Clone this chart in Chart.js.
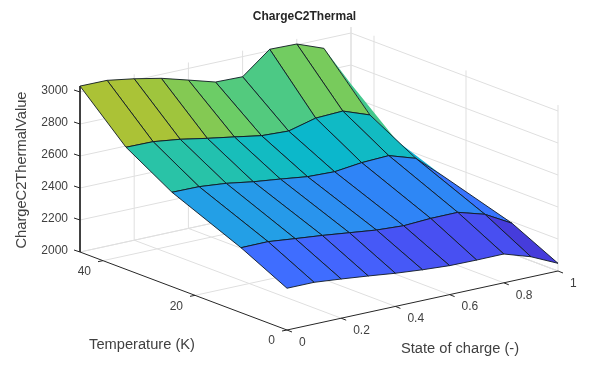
<!DOCTYPE html>
<html>
<head>
<meta charset="utf-8">
<title>ChargeC2Thermal</title>
<script src="https://cdn.jsdelivr.net/npm/chart.js@4/dist/chart.umd.min.js"></script>
<style>
  html, body { margin: 0; padding: 0; background: #fff; }
  #wrap { width: 616px; height: 371px; }
</style>
</head>
<body>
<div id="wrap"><canvas id="myChart"></canvas></div>
<script>
// data
var socValues = [0, 0.1, 0.2, 0.3, 0.4, 0.5, 0.6, 0.7, 0.8, 0.9, 1];
var tempValues = [0, 10, 25, 35, 45];
var values_t0 = [2261, 2261, 2245, 2227, 2207, 2192, 2181, 2179, 2180, 2126, 2048];
var values_t10 = [2406, 2407, 2389, 2372, 2352, 2332, 2322, 2331, 2332, 2283, 2190];
var values_t25 = [2590, 2588, 2572, 2545, 2525, 2503, 2497, 2517, 2524, 2470, 2323];
var values_t35 = [2763, 2761, 2739, 2708, 2680, 2651, 2643, 2687, 2694, 2633, 2433];
var values_t45 = [3037, 3036, 3009, 2975, 2927, 2878, 2874, 3009, 3005, 2941, 2681];
var surface = [values_t0, values_t10, values_t25, values_t35, values_t45];

var socTicks = [0, 0.2, 0.4, 0.6, 0.8, 1];
var tempTicks = [0, 20, 40];
var zTicks = [2000, 2200, 2400, 2600, 2800, 3000];

var titleText = 'ChargeC2Thermal';
var socLabel = 'State of charge (-)';
var tempLabel = 'Temperature (K)';
var zLabel = 'ChargeC2ThermalValue';

var tempMax = 45, zMin = 2000, zMax = 3037;

// parula, position then r g b
var parula = [
    [0, 62, 38, 168], [0.064, 69, 55, 213], [0.127, 72, 77, 240], [0.19, 69, 99, 253],
    [0.222, 62, 111, 255], [0.254, 50, 124, 252], [0.317, 43, 145, 239], [0.381, 32, 165, 226],
    [0.444, 8, 181, 208], [0.508, 25, 191, 184], [0.571, 50, 198, 158], [0.635, 105, 205, 105],
    [0.70, 160, 197, 60], [0.76, 190, 190, 45], [0.875, 250, 190, 60], [1, 249, 251, 14]
];

function parulaColor(p) {
    for (var i = 1; i < parula.length; i++) {
        if (p <= parula[i][0]) {
            var a = parula[i - 1], b = parula[i];
            var f = (p - a[0]) / (b[0] - a[0]);
            return 'rgb(' + [1, 2, 3].map(function(k) {
                return Math.round(a[k] + (b[k] - a[k]) * f);
            }).join(',') + ')';
        }
    }
    return 'rgb(249,251,14)';
}

// 3D view -> plot coordinates
function project(s, t, z) {
    return {
        x: 287 + 271 * s - 207 * t / tempMax,
        y: 330 - 59 * s - 78 * t / tempMax - 0.16 * (z - zMin)
    };
}

function lineSet(points, color, width) {
    return {
        type: 'scatter', data: points, showLine: true, pointRadius: 0,
        borderColor: color, borderWidth: width, fill: false, clip: false, tension: 0
    };
}

var gridColor = '#dfdfdf';
var axisColor = '#262626';
var datasets = [];

// back walls and floor
zTicks.forEach(function(z) {
    datasets.push(lineSet([project(0, tempMax, z), project(1, tempMax, z), project(1, 0, z)], gridColor, 1));
});
socTicks.forEach(function(s) {
    if (s > 0) datasets.push(lineSet([project(s, 0, zMin), project(s, tempMax, zMin), project(s, tempMax, zMax)], gridColor, 1));
});
tempTicks.forEach(function(t) {
    if (t > 0) datasets.push(lineSet([project(0, t, zMin), project(1, t, zMin), project(1, t, zMax)], gridColor, 1));
});
datasets.push(lineSet([project(0, tempMax, zMin), project(1, tempMax, zMin), project(1, 0, zMin), project(1, 0, zMax)], gridColor, 1));
datasets.push(lineSet([project(1, tempMax, zMin), project(1, tempMax, zMax)], gridColor, 1));

// surface, painted from the back corner to the front one
var zLow = Math.min.apply(null, values_t0);
for (var i = tempValues.length - 2; i >= 0; i--) {
    for (var j = socValues.length - 2; j >= 0; j--) {
        var quad = [
            project(socValues[j], tempValues[i], surface[i][j]),
            project(socValues[j + 1], tempValues[i], surface[i][j + 1]),
            project(socValues[j + 1], tempValues[i + 1], surface[i + 1][j + 1]),
            project(socValues[j], tempValues[i + 1], surface[i + 1][j]),
            project(socValues[j], tempValues[i], surface[i][j])
        ];
        var face = lineSet(quad, 'rgba(15,25,35,0.9)', 1);
        face.fill = 'shape';
        face.backgroundColor = parulaColor((surface[i][j] - zLow) / (zMax - zLow));
        // the far slivers show no outline in the reference
        if (j == socValues.length - 2 && i >= 2) face.borderWidth = 0;
        datasets.push(face);
    }
}

// axis lines and ticks
datasets.push(lineSet([project(0, tempMax, zMax), project(0, tempMax, zMin), project(0, 0, zMin), project(1, 0, zMin)], axisColor, 1));
zTicks.forEach(function(z) {
    var p = project(0, tempMax, z);
    datasets.push(lineSet([p, {x: p.x - 6, y: p.y - 2}], axisColor, 1));
});
socTicks.forEach(function(s) {
    var p = project(s, 0, zMin);
    datasets.push(lineSet([p, {x: p.x + 5, y: p.y + 2}], axisColor, 1));
});
tempTicks.forEach(function(t) {
    var p = project(0, t, zMin);
    datasets.push(lineSet([p, {x: p.x - 5, y: p.y + 1}], axisColor, 1));
});

// first dataset is drawn last in chart.js
datasets.reverse();

var titleSize = 12, titlePad = 9;
var titleHeight = titleSize * 1.2 + titlePad * 2;

var tickText = {
    id: 'tickText',
    afterDraw: function(chart) {
        var ctx = chart.ctx, xs = chart.scales.x, ys = chart.scales.y;
        function put(text, p, dx, dy, align) {
            ctx.textAlign = align;
            ctx.fillText(text, xs.getPixelForValue(p.x) + dx, ys.getPixelForValue(p.y) + dy);
        }
        ctx.save();
        ctx.fillStyle = '#404040';
        ctx.textBaseline = 'middle';
        ctx.font = '12px "Liberation Sans"';
        zTicks.forEach(function(z) { put(String(z), project(0, tempMax, z), -12, -1, 'right'); });
        socTicks.forEach(function(s) { put(String(s), project(s, 0, zMin), 12, 12.5, 'left'); });
        tempTicks.forEach(function(t) { put(String(t), project(0, t, zMin), -12, 11, 'right'); });
        ctx.font = '14.67px "Liberation Sans"';
        ctx.textAlign = 'center';
        ctx.fillText(tempLabel, 142, 344.5);
        ctx.fillText(socLabel, 460, 348.5);
        ctx.translate(22, 170);
        ctx.rotate(-Math.PI / 2);
        ctx.fillText(zLabel, 0, 0);
        ctx.restore();
    }
};

new Chart(document.getElementById('myChart').getContext('2d'), {
    type: 'scatter',
    data: { datasets: datasets },
    plugins: [tickText],
    options: {
        responsive: true,
        maintainAspectRatio: false,
        animation: false,
        events: [],
        layout: { padding: { right: 7 } },
        plugins: {
            legend: { display: false },
            tooltip: { enabled: false },
            title: {
                display: true,
                text: titleText,
                color: '#262626',
                font: { family: '"Liberation Sans"', size: titleSize, weight: 'bold', lineHeight: 1.2 },
                padding: { top: titlePad, bottom: titlePad }
            }
        },
        scales: {
            x: { type: 'linear', display: false, min: 0, max: 609 },
            y: { type: 'linear', display: false, reverse: true, min: titleHeight, max: 371 }
        }
    }
});
</script>
</body>
</html>
